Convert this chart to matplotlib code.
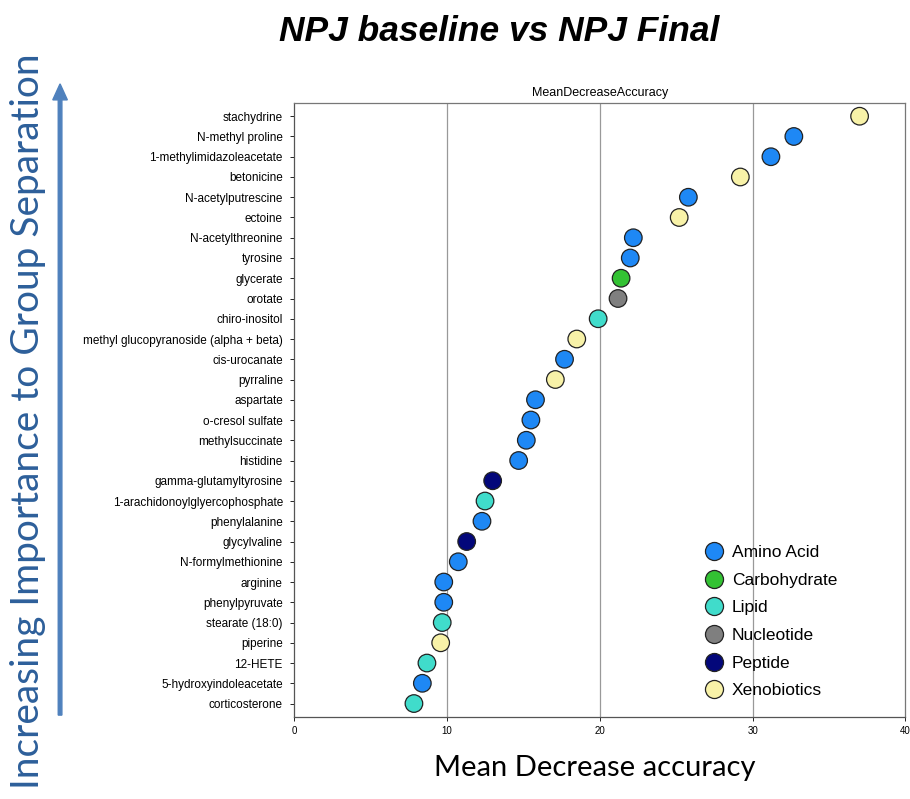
import numpy as np
import matplotlib.pyplot as plt
from matplotlib.lines import Line2D
from matplotlib.patches import FancyArrow

# metabolites, top (most important) to bottom
names = ["stachydrine", "N-methyl proline", "1-methylimidazoleacetate", "betonicine",
         "N-acetylputrescine", "ectoine", "N-acetylthreonine", "tyrosine", "glycerate",
         "orotate", "chiro-inositol", "methyl glucopyranoside (alpha + beta)", "cis-urocanate",
         "pyrraline", "aspartate", "o-cresol sulfate", "methylsuccinate", "histidine",
         "gamma-glutamyltyrosine", "1-arachidonoylglyercophosphate", "phenylalanine",
         "glycylvaline", "N-formylmethionine", "arginine", "phenylpyruvate", "stearate (18:0)",
         "piperine", "12-HETE", "5-hydroxyindoleacetate", "corticosterone"]
mda = [37.0, 32.7, 31.2, 29.2, 25.8, 25.2, 22.2, 22.0, 21.4, 21.2,
       19.9, 18.5, 17.7, 17.1, 15.8, 15.5, 15.2, 14.7, 13.0, 12.5,
       12.3, 11.3, 10.75, 9.8, 9.8, 9.7, 9.6, 8.7, 8.4, 7.85]
group = ["Xenobiotics", "Amino Acid", "Amino Acid", "Xenobiotics", "Amino Acid",
         "Xenobiotics", "Amino Acid", "Amino Acid", "Carbohydrate", "Nucleotide",
         "Lipid", "Xenobiotics", "Amino Acid", "Xenobiotics", "Amino Acid",
         "Amino Acid", "Amino Acid", "Amino Acid", "Peptide", "Lipid",
         "Amino Acid", "Peptide", "Amino Acid", "Amino Acid", "Amino Acid",
         "Lipid", "Xenobiotics", "Lipid", "Amino Acid", "Lipid"]

groups = ["Amino Acid", "Carbohydrate", "Lipid", "Nucleotide", "Peptide", "Xenobiotics"]
colors = {"Amino Acid": "#1E88F5", "Carbohydrate": "#33C233", "Lipid": "#40DCCB",
          "Nucleotide": "#7F7F7F", "Peptide": "#03077A", "Xenobiotics": "#F8F2A8"}

fig = plt.figure(figsize=(9.1, 7.99), dpi=100)
ax = fig.add_axes([0.323, 0.103, 0.672, 0.768])

y = np.arange(len(names))[::-1]
ax.scatter(mda, y, s=160, c=[colors[g] for g in group], edgecolors="#222222",
           linewidths=0.9, zorder=3)

ax.set_xlim(0, 40)
ax.set_ylim(-0.65, len(names) - 0.35)
ax.set_xticks([0, 10, 20, 30, 40])
ax.set_yticks(y)
ax.set_yticklabels(names, family="Liberation Sans", fontsize=8.5)
for lab in ax.get_xticklabels():
    lab.set_family("Liberation Sans")
    lab.set_fontsize(7)
ax.tick_params(axis="y", length=3, width=0.6, pad=5)
ax.tick_params(axis="x", length=3, width=0.6, pad=4)
for x in [10, 20, 30]:
    ax.axvline(x, color="#999999", lw=0.9, zorder=1)
for s in ax.spines.values():
    s.set_color("#777777")
    s.set_linewidth(0.9)
ax.spines["bottom"].set_color("#555555")
ax.spines["left"].set_color("#555555")
ax.set_title("MeanDecreaseAccuracy", family="Liberation Sans", fontsize=9, pad=5)

handles = [Line2D([], [], ls="none", marker="o", markersize=13, markerfacecolor=colors[g],
                  markeredgecolor="#222222", markeredgewidth=0.9) for g in groups]
leg = ax.legend(handles, groups, loc="lower left", bbox_to_anchor=(0.645, 0.01),
                frameon=False, prop={"family": "Liberation Sans", "size": 12.5},
                handletextpad=0.2, labelspacing=0.72, borderaxespad=0.3,
                handlelength=1.6)

fig.text(0.549, 0.96, "NPJ baseline vs NPJ Final", ha="center", va="center",
         family="Liberation Sans", fontsize=25.5, fontweight="bold", fontstyle="italic")
fig.text(0.654, 0.039, "Mean Decrease accuracy", ha="center", va="center",
         family="Lato", fontsize=21)
fig.text(0.031, 0.473, "Increasing Importance to Group Separation", ha="center", va="center",
         rotation=90, family="Lato", fontsize=28, color="#2D5F9A")
fig.patches.append(FancyArrow(
    0.066, 0.105, 0, 0.79, width=0.004, head_width=0.016, head_length=0.02,
    length_includes_head=True, color="#4F81BD", transform=fig.transFigure, figure=fig))

fig.savefig("out.png", dpi=100)
